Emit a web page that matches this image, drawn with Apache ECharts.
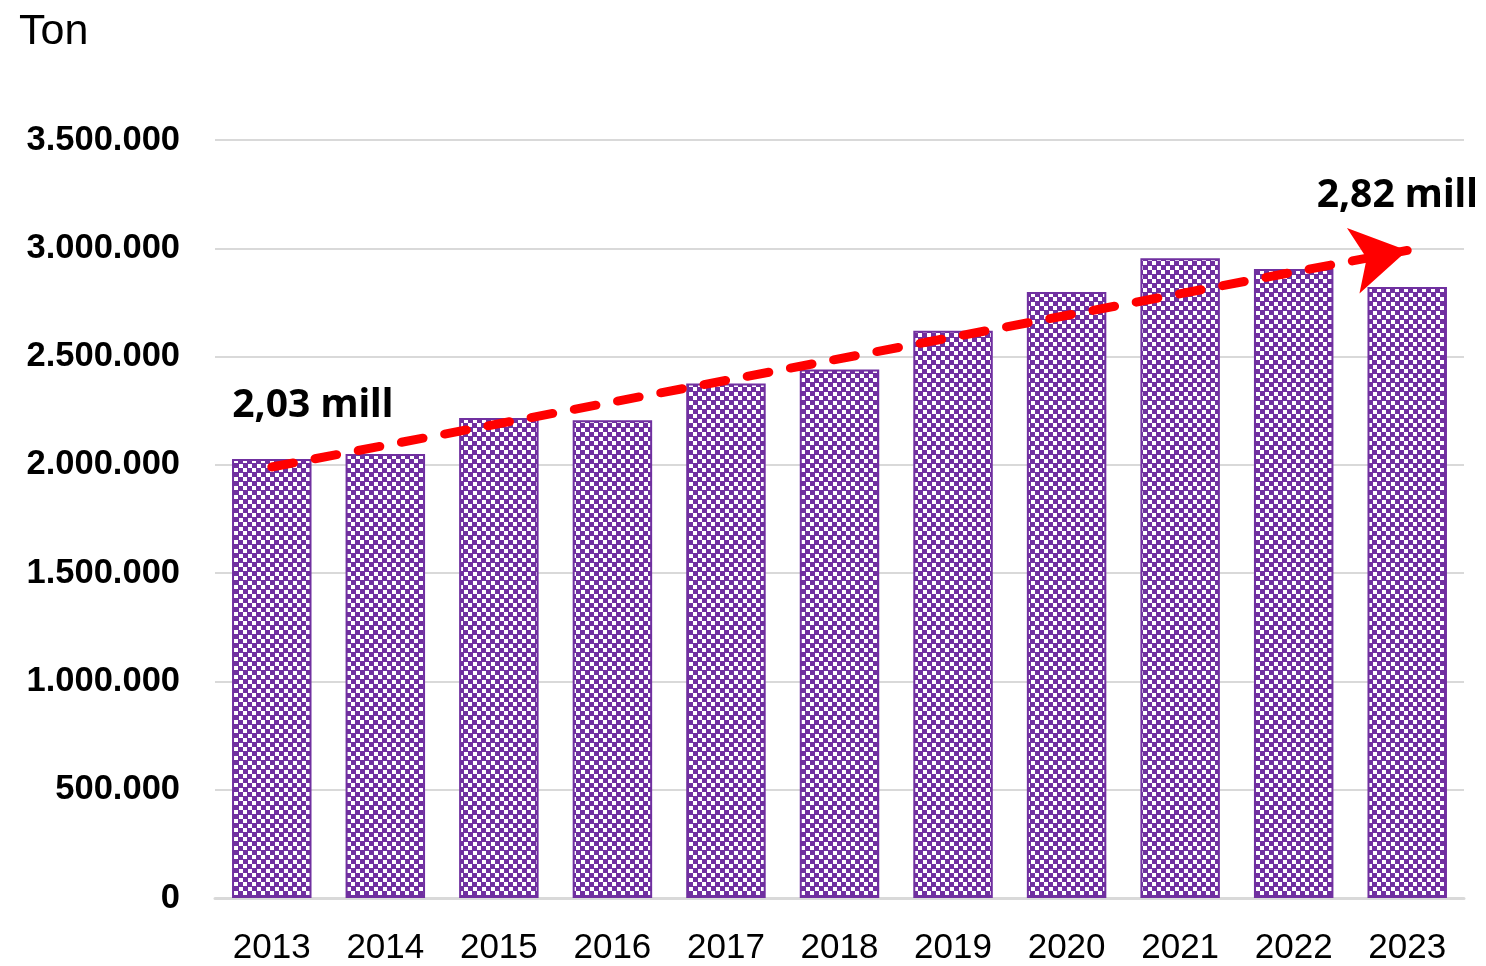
<!DOCTYPE html>
<html>
<head>
<meta charset="utf-8">
<script src="https://cdn.jsdelivr.net/npm/echarts@6/dist/echarts.min.js"></script>
<style>html,body{margin:0;padding:0;background:#fff;}#c{width:1486px;height:966px;}</style>
</head>
<body>
<div id="c"></div>
<script>
const years = ['2013','2014','2015','2016','2017','2018','2019','2020','2021','2022','2023'];
const tons = [2027000, 2050000, 2216000, 2206000, 2376000, 2440000, 2619000, 2798000, 2954000, 2904000, 2821000];
const trendStart = 1990000;
const trendEnd = 2990000;
const startLabel = '2,03 mill';
const endLabel = '2,82 mill';
const yUnit = 'Ton';

const purple = '#7030A0';
const cv = document.createElement('canvas');
cv.width = 9; cv.height = 9;
const g = cv.getContext('2d');
g.fillStyle = purple; g.fillRect(0,0,9,9);
g.fillStyle = '#ffffff';
g.fillRect(0,0,4,4); g.fillRect(5,5,4,4);

const fmt = v => String(v).replace(/\B(?=(\d{3})+(?!\d))/g, '.');

const chart = echarts.init(document.getElementById('c'), null, {renderer:'canvas'});
chart.setOption({
  animation: false,
  backgroundColor: '#fff',
  title: { text: yUnit, left: 14, top: 6, textStyle: { fontFamily: 'Liberation Sans', fontSize: 43, fontWeight: 'normal', color: '#000' } },
  grid: { left: 215, right: 22, top: 140, bottom: 63, containLabel: false },
  xAxis: {
    type: 'category', data: years,
    axisTick: { show: false },
    axisLine: { lineStyle: { color: '#d9d9d9', width: 3 } },
    axisLabel: { fontFamily: 'Liberation Sans', fontSize: 35, color: '#000', margin: 33 }
  },
  yAxis: {
    type: 'value', min: 0, max: 3500000, interval: 500000,
    axisLine: { show: false }, axisTick: { show: false },
    splitLine: { lineStyle: { color: '#d9d9d9', width: 2 } },
    axisLabel: { fontFamily: 'Liberation Sans', fontSize: 34.5, fontWeight: 'bold', color: '#000', margin: 35, formatter: fmt }
  },
  series: [{
    type: 'bar', data: tons, barWidth: '70%',
    itemStyle: { color: { image: cv, repeat: 'repeat' }, borderColor: purple, borderWidth: 2 },
    markLine: {
      silent: true,
      symbol: ['none', 'arrow'],
      symbolSize: [50, 55],
      label: { show: false },
      lineStyle: { color: '#ff0000', width: 9, type: [22, 22], cap: 'round' },
      data: [[{ coord: [years[0], trendStart] }, { coord: [years[years.length-1], trendEnd] }]]
    },
    markPoint: {
      symbol: 'circle', symbolSize: 0, silent: true,
      label: { show: true, fontFamily: 'Noto Sans', fontWeight: 'bold', fontSize: 39, color: '#000', position: 'inside' },
      data: [
        { coord: [years[0], 2270000], value: startLabel, label: { formatter: startLabel, offset: [41, 0] } },
        { coord: [years[years.length-1], 3243000], value: endLabel, label: { formatter: endLabel, offset: [-10, 0] } }
      ]
    }
  }]
});
</script>
</body>
</html>
